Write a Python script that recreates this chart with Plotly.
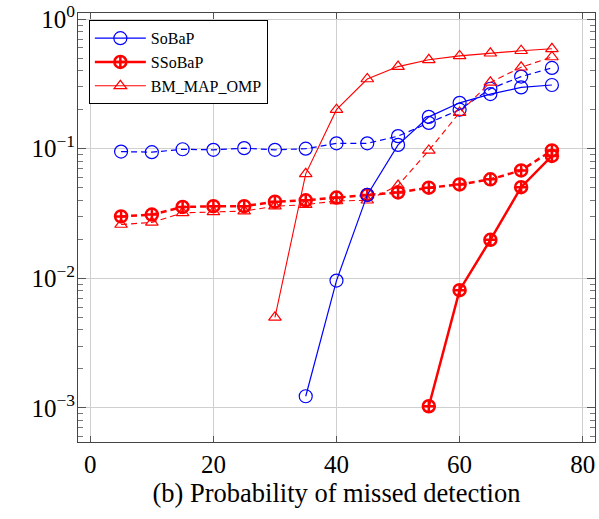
import plotly.graph_objects as go

x_all = [5, 10, 15, 20, 25, 30, 35, 40, 45, 50, 55, 60, 65, 70, 75]

# SoBaP
sobap_x = [35, 40, 45, 50, 55, 60, 65, 70, 75]
sobap_y = [1.23e-3, 9.6e-3, 0.044, 0.107, 0.176, 0.226, 0.264, 0.297, 0.31]
sobap_dash_y = [0.095, 0.094, 0.099, 0.098, 0.101, 0.098, 0.1, 0.11, 0.11,
                0.125, 0.158, 0.2, 0.29, 0.36, 0.42]

# SSoBaP
ssobap_x = [55, 60, 65, 70, 75]
ssobap_y = [1.03e-3, 8.1e-3, 0.0198, 0.0505, 0.088]
ssobap_dash_y = [0.030, 0.031, 0.0355, 0.036, 0.036, 0.039, 0.04, 0.042, 0.044,
                 0.046, 0.05, 0.053, 0.058, 0.068, 0.097]

# BM_MAP_OMP
bm_x = [30, 35, 40, 45, 50, 55, 60, 65, 70, 75]
bm_y = [5.0e-3, 0.064, 0.2, 0.345, 0.43, 0.485, 0.52, 0.545, 0.57, 0.59]
bm_dash_y = [0.026, 0.027, 0.032, 0.0325, 0.033, 0.036, 0.037, 0.0395, 0.04,
             0.052, 0.097, 0.19, 0.325, 0.425, 0.51]

x_ticks = [0, 20, 40, 60, 80]
y_ticks = [1e-3, 1e-2, 1e-1, 1]
y_ticktext = ["10<sup>−3</sup>", "10<sup>−2</sup>", "10<sup>−1</sup>", "10<sup>0</sup>"]

BLUE = "#0000ff"
RED = "#ff0000"
FONT = "Liberation Serif"

fig = go.Figure()

# dashed companions (not in legend)
fig.add_trace(go.Scatter(x=x_all, y=sobap_dash_y, mode="lines+markers", showlegend=False,
                         line=dict(color=BLUE, width=1.2, dash="6px,4px"),
                         marker=dict(symbol="circle-open", size=13, color=BLUE, line=dict(width=1.2))))
fig.add_trace(go.Scatter(x=x_all, y=ssobap_dash_y, mode="lines+markers", showlegend=False,
                         line=dict(color=RED, width=2.5, dash="6px,4px"),
                         marker=dict(symbol="circle-cross-open", size=12, color=RED, line=dict(width=2.5))))
fig.add_trace(go.Scatter(x=x_all, y=bm_dash_y, mode="lines+markers", showlegend=False,
                         line=dict(color=RED, width=1.1, dash="6px,4px"),
                         marker=dict(symbol="triangle-up-open", size=11, color=RED, line=dict(width=1.2))))

# solid series (legend)
fig.add_trace(go.Scatter(x=sobap_x, y=sobap_y, mode="lines+markers", name="SoBaP",
                         line=dict(color=BLUE, width=1.2),
                         marker=dict(symbol="circle-open", size=13, color=BLUE, line=dict(width=1.2))))
fig.add_trace(go.Scatter(x=ssobap_x, y=ssobap_y, mode="lines+markers", name="SSoBaP",
                         line=dict(color=RED, width=2.5),
                         marker=dict(symbol="circle-cross-open", size=12, color=RED, line=dict(width=2.5))))
fig.add_trace(go.Scatter(x=bm_x, y=bm_y, mode="lines+markers", name="BM_MAP_OMP",
                         line=dict(color=RED, width=1.1),
                         marker=dict(symbol="triangle-up-open", size=11, color=RED, line=dict(width=1.2))))

minor_vals = [m * 10 ** e for e in range(-4, 1) for m in range(2, 10)]

fig.update_layout(
    width=599, height=519,
    margin=dict(l=78, r=4, t=13, b=77),
    paper_bgcolor="white", plot_bgcolor="white",
    font=dict(family=FONT, color="black", size=24),
    showlegend=True,
    legend=dict(x=0.021, y=0.983, xanchor="left", yanchor="top",
                bgcolor="white", bordercolor="black", borderwidth=1,
                font=dict(family=FONT, size=16), itemwidth=51, tracegroupgap=0),
    xaxis=dict(range=[-2, 82], tickvals=x_ticks, ticks="inside", ticklen=6,
               tickcolor="#555", showline=True, linecolor="#444", linewidth=1,
               mirror="allticks", showgrid=True, gridcolor="#cfcfcf", gridwidth=1,
               zeroline=False, tickfont=dict(size=25), automargin=False,
               ticklabeloverflow="allow",
               title=dict(text="(b) Probability of missed detection", font=dict(size=26.5), standoff=0)),
    yaxis=dict(type="log", range=[-3.263, 0.047], tickvals=y_ticks, ticktext=y_ticktext,
               ticks="inside", ticklen=8, tickcolor="#555", showline=True, linecolor="#444",
               linewidth=1, mirror="allticks", showgrid=True, gridcolor="#cfcfcf", gridwidth=1,
               zeroline=False, tickfont=dict(size=25), automargin=False,
               ticklabeloverflow="allow", ticklabelstandoff=-3,
               minor=dict(tickvals=minor_vals, ticks="inside", ticklen=5, tickcolor="#777",
                          showgrid=False)),
)

# remove the browser's default 8px body margin so the figure sits at the page origin
fig.write_html("out.html", config={"displayModeBar": False},
               post_script="document.body.style.margin='0px';")
